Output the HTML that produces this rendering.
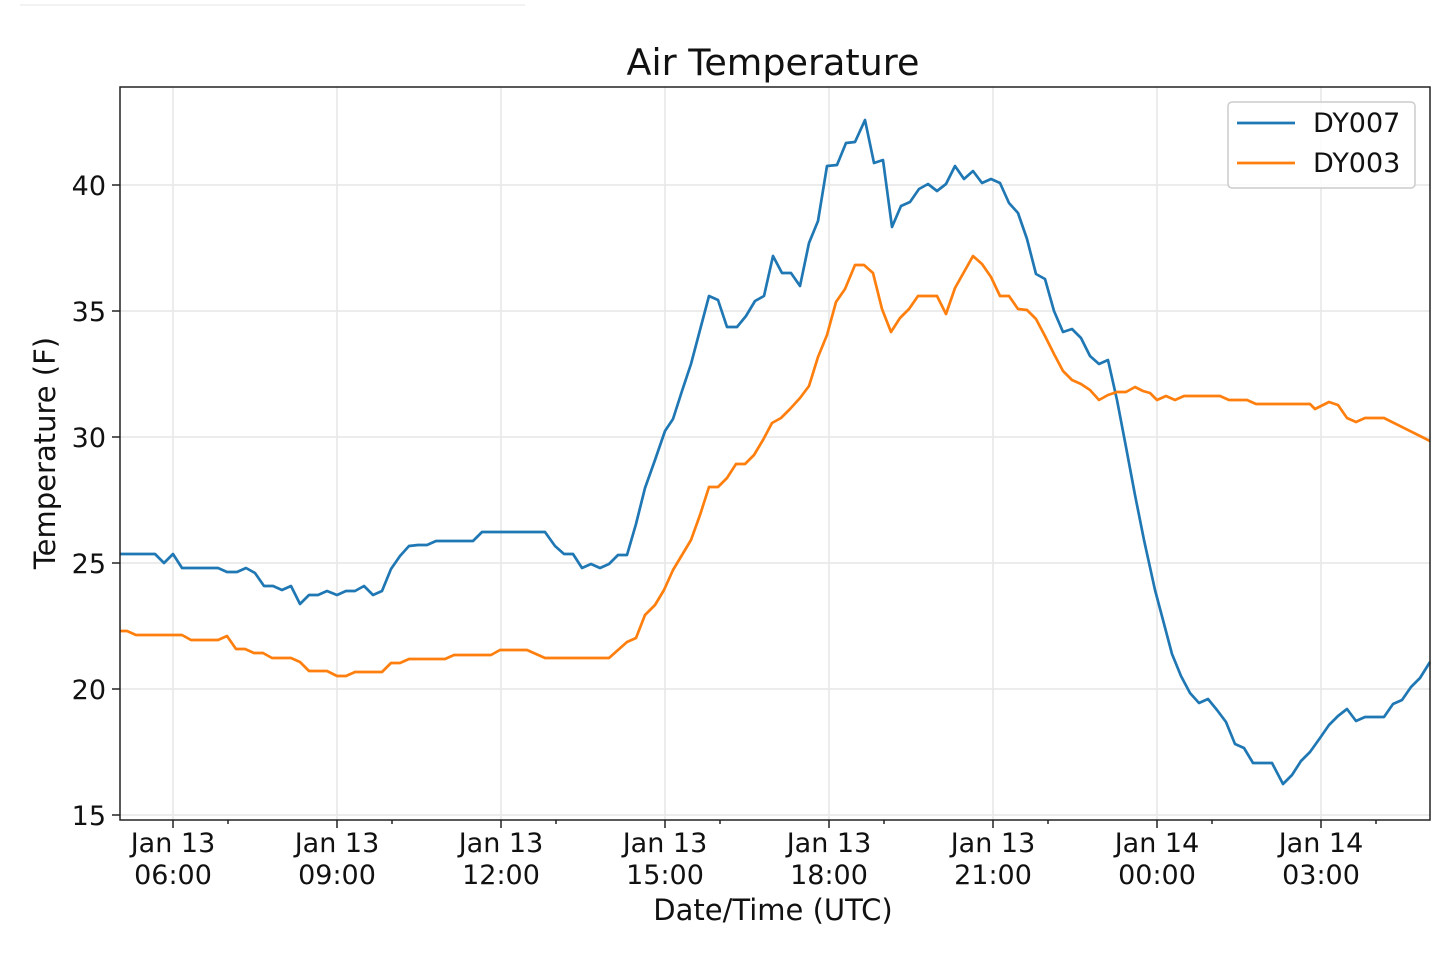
<!DOCTYPE html>
<html><head><meta charset="utf-8"><style>body{margin:0;background:#fff}svg{display:block}</style></head><body>
<svg width="1439" height="953" xmlns="http://www.w3.org/2000/svg" font-family="DejaVu Sans, Liberation Sans, sans-serif">
<line x1="20" y1="5" x2="525" y2="5" stroke="#eee" stroke-width="1.5"/>
<g stroke="#e6e6e6" stroke-width="1.5">
<line x1="173" y1="87" x2="173" y2="820"/><line x1="337" y1="87" x2="337" y2="820"/><line x1="501" y1="87" x2="501" y2="820"/><line x1="665" y1="87" x2="665" y2="820"/><line x1="829" y1="87" x2="829" y2="820"/><line x1="993" y1="87" x2="993" y2="820"/><line x1="1157" y1="87" x2="1157" y2="820"/><line x1="1321" y1="87" x2="1321" y2="820"/>
<line x1="120" y1="185" x2="1430" y2="185"/><line x1="120" y1="311" x2="1430" y2="311"/><line x1="120" y1="437" x2="1430" y2="437"/><line x1="120" y1="563" x2="1430" y2="563"/><line x1="120" y1="689" x2="1430" y2="689"/><line x1="120" y1="815" x2="1430" y2="815"/>
</g>
<polyline fill="none" stroke="#1f77b4" stroke-width="2.7" stroke-linejoin="round" points="120,554 155,554 164,563 173,554 182,568 218,568 227,572 237,572 246,568 255,573 264,586 273,586 282,590 291,586 300,604 309,595 318,595 327,591 337,595 346,591 355,591 364,586 373,595 382,591 391,569 400,556 409,546 418,545 427,545 436,541 464,541 473,541 482,532 545,532 555,546 564,554 573,554 582,568 591,564 600,568 609,564 618,555 627,555 636,524 645,488 655,460 665,431 673,419 682,391 691,364 700,330 709,296 718,300 727,327 737,327 746,316 755,301 764,296 773,256 782,273 791,273 800,286 809,243 818,221 827,166 837,165 846,143 855,142 865,120 874,163 883,160 892,227 901,206 910,202 919,189 928,184 937,191 946,184 955,166 964,179 973,171 982,183 991,179 1000,183 1009,203 1018,213 1027,239 1036,274 1045,279 1054,311 1063,332 1072,329 1081,338 1090,356 1099,364 1108,360 1117,400 1126,447 1135,495 1144,540 1155,590 1163,620 1172,654 1181,676 1190,693 1199,703 1208,699 1217,710 1226,722 1235,744 1244,748 1253,763 1262,763 1272,763 1283,784 1292,775 1301,761 1310,752 1320,738 1329,725 1338,716 1347,709 1356,721 1365,717 1384,717 1393,704 1402,700 1411,687 1420,678 1430,662"/>
<polyline fill="none" stroke="#ff7f0e" stroke-width="2.7" stroke-linejoin="round" points="120,631 127,631 136,635 182,635 191,640 218,640 227,636 236,649 245,649 254,653 263,653 272,658 291,658 300,662 309,671 327,671 337,676 346,676 355,672 382,672 391,663 400,663 409,659 445,659 454,655 491,655 500,650 527,650 536,654 545,658 609,658 618,650 627,642 636,638 645,615 655,605 664,590 673,570 682,555 691,540 700,515 709,487 718,487 727,478 736,464 745,464 754,455 763,440 772,423 781,418 790,409 800,398 809,386 818,357 827,335 836,302 845,289 855,265 864,265 873,273 882,309 891,332 900,318 909,309 918,296 937,296 946,314 955,288 964,272 973,256 982,264 991,277 1000,296 1009,296 1018,309 1027,310 1036,319 1045,336 1054,354 1063,371 1072,380 1081,384 1090,390 1099,400 1108,395 1117,392 1126,392 1135,387 1143,391 1150,393 1157,400 1166,396 1175,400 1184,396 1220,396 1229,400 1247,400 1256,404 1310,404 1315,409 1329,402 1338,405 1347,418 1356,422 1365,418 1384,418 1430,441"/>
<rect x="120" y="87" width="1310" height="733" fill="none" stroke="#222" stroke-width="1.5"/>
<g stroke="#222" stroke-width="1.5">
<line x1="112" y1="185" x2="120" y2="185"/><line x1="112" y1="311" x2="120" y2="311"/><line x1="112" y1="437" x2="120" y2="437"/><line x1="112" y1="563" x2="120" y2="563"/><line x1="112" y1="689" x2="120" y2="689"/><line x1="112" y1="815" x2="120" y2="815"/>
<line x1="173" y1="820" x2="173" y2="828"/><line x1="337" y1="820" x2="337" y2="828"/><line x1="501" y1="820" x2="501" y2="828"/><line x1="665" y1="820" x2="665" y2="828"/><line x1="829" y1="820" x2="829" y2="828"/><line x1="993" y1="820" x2="993" y2="828"/><line x1="1157" y1="820" x2="1157" y2="828"/><line x1="1321" y1="820" x2="1321" y2="828"/>
<line x1="228" y1="820" x2="228" y2="824"/><line x1="392" y1="820" x2="392" y2="824"/><line x1="556" y1="820" x2="556" y2="824"/><line x1="720" y1="820" x2="720" y2="824"/><line x1="884" y1="820" x2="884" y2="824"/><line x1="1048" y1="820" x2="1048" y2="824"/><line x1="1212" y1="820" x2="1212" y2="824"/><line x1="1376" y1="820" x2="1376" y2="824"/>
</g>
<g font-size="27" fill="#111" text-anchor="end">
<text x="106" y="195">40</text><text x="106" y="321">35</text><text x="106" y="447">30</text><text x="106" y="573">25</text><text x="106" y="699">20</text><text x="106" y="825">15</text>
</g>
<g font-size="27" fill="#111" text-anchor="middle">
<text x="173" y="852">Jan 13</text><text x="173" y="884">06:00</text>
<text x="337" y="852">Jan 13</text><text x="337" y="884">09:00</text>
<text x="501" y="852">Jan 13</text><text x="501" y="884">12:00</text>
<text x="665" y="852">Jan 13</text><text x="665" y="884">15:00</text>
<text x="829" y="852">Jan 13</text><text x="829" y="884">18:00</text>
<text x="993" y="852">Jan 13</text><text x="993" y="884">21:00</text>
<text x="1157" y="852">Jan 14</text><text x="1157" y="884">00:00</text>
<text x="1321" y="852">Jan 14</text><text x="1321" y="884">03:00</text>
</g>
<text x="773" y="920" font-size="29" text-anchor="middle" fill="#111">Date/Time (UTC)</text>
<text transform="translate(55,453) rotate(-90)" font-size="29" text-anchor="middle" fill="#111">Temperature (F)</text>
<text x="773" y="75" font-size="36.5" text-anchor="middle" fill="#111">Air Temperature</text>
<rect x="1228" y="102" width="187" height="86" rx="4" fill="#fff" fill-opacity="0.85" stroke="#ccc" stroke-width="1.5"/>
<line x1="1237" y1="123" x2="1295" y2="123" stroke="#1f77b4" stroke-width="2.7"/>
<line x1="1237" y1="163" x2="1295" y2="163" stroke="#ff7f0e" stroke-width="2.7"/>
<text x="1313" y="132" font-size="27" fill="#111">DY007</text>
<text x="1313" y="172" font-size="27" fill="#111">DY003</text>
</svg>
</body></html>
